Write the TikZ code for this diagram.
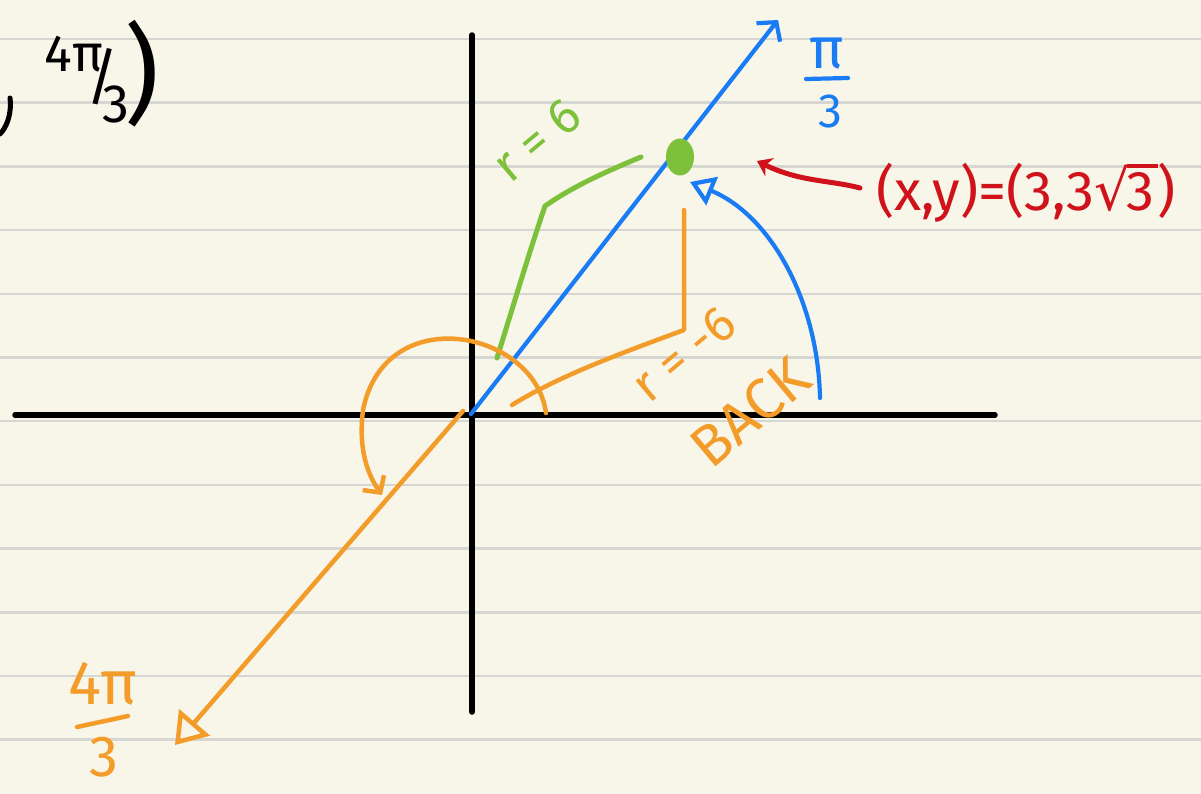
\documentclass[tikz,border=0pt]{standalone}
\usepackage{fontspec}
\setmainfont{Fira Sans}
\newfontfamily\djv{DejaVu Sans}
\usetikzlibrary{arrows.meta,shapes.geometric}
\definecolor{paper}{HTML}{F8F5E9}
\definecolor{ruleline}{HTML}{D6D6D3}
\definecolor{pblue}{HTML}{1A7CF5}
\definecolor{porange}{HTML}{F39C2A}
\definecolor{pgreen}{HTML}{7DC13A}
\definecolor{pred}{HTML}{D0121B}
\newcommand\myroot[1]{{\djv √}\kern-0.06em\vbox{\hrule height 0.07em\kern0.08em\hbox{#1\kern0.05em}}}
\begin{document}
\begin{tikzpicture}[x=1pt,y=-1pt,line cap=round,line join=round,
  hw/.style={font=\fontsize{#1}{#1}\selectfont,inner sep=0pt},
  axisline/.style={black,line width=5.5pt},
  bluepen/.style={pblue,line width=4.2pt},
  orangepen/.style={porange,line width=4.5pt},
  greenpen/.style={pgreen,line width=5pt},
  redpen/.style={pred,line width=5pt},
  blackpen/.style={black,line width=5pt}]
\fill[paper] (0,0) rectangle (1201,794);
\useasboundingbox (0,0) rectangle (1201,794);
\foreach \k in {0,...,11}
  \draw[ruleline,line width=2.5pt] (0,39+63.7*\k) -- (1201,39+63.7*\k);

% axes
\coordinate (O) at (471,414);
\coordinate (xl) at (15,415);
\coordinate (xr) at (995,415);
\coordinate (yt) at (472,35);
\coordinate (yb) at (472,712);
\draw[axisline] (xl) -- (xr);
\draw[axisline] (yt) -- (yb);

% blue ray pi/3
\coordinate (bt) at (778,20);
\draw[bluepen,-{Straight Barb[length=13pt,width=30pt,line width=4.2pt]}] (O) -- (bt);
\node[hw=58,text=pblue] (pinum) at (827,54) {π};
\coordinate (pibarL) at (806,79);
\coordinate (pibarR) at (848,78);
\draw[bluepen] (pibarL) -- (pibarR);
\node[hw=48,text=pblue] (piden) at (830,111) {3};

% green point and r=6
\node[ellipse,fill=pgreen,minimum width=28pt,minimum height=37pt,inner sep=0pt] (P) at (680,157) {};
\coordinate (g1) at (497,358);
\coordinate (g2) at (545,206);
\coordinate (g3) at (641,157);
\draw[greenpen] (g1) .. controls (515,300) and (530,250) .. (g2)
  .. controls (575,185) and (610,170) .. (g3);
\node[hw=50,text=pgreen,rotate=40] (rsix) at (537,140) {r = 6};

% orange r=-6 back
\coordinate (o1) at (684,210);
\coordinate (o2) at (684,330);
\coordinate (o3) at (512,405);
\draw[orangepen] (o1) -- (o2) .. controls (630,350) and (560,375) .. (o3);
\node[hw=50,text=porange,rotate=40] (rneg) at (684,354) {r = -6};
\node[hw=58,text=porange,rotate=40] (back) at (750,412) {BACK};

% orange rotation arc
\coordinate (oa1) at (546,413);
\coordinate (oa2) at (382,495);
\draw[orangepen,-{Straight Barb[length=12pt,width=26pt,line width=4.5pt]}] (oa1)
  .. controls (535,330) and (385,300) .. (363,410)
  .. controls (358,450) and (368,475) .. (oa2);

% orange ray 4pi/3
\coordinate (ol1) at (463,411);
\coordinate (ol2) at (175,745);
\draw[orangepen,-{Triangle[open,length=30pt,width=40pt,line width=4.5pt]}] (ol1) -- (ol2);
\node[hw=62,text=porange] (fnum) at (103,684) {4π};
\coordinate (fbarL) at (77,727);
\coordinate (fbarR) at (128,716);
\draw[orangepen] (fbarL) -- (fbarR);
\node[hw=58,text=porange] (fden) at (104,757) {3};

% blue arc back to point
\coordinate (ba1) at (820,398);
\coordinate (ba2) at (690,182);
\draw[bluepen,-{Triangle[open,length=24pt,width=30pt,line width=4.2pt]}] (ba1)
  .. controls (818,300) and (770,215) .. (ba2);

% red label and arrow
\node[hw=56,text=pred,anchor=west] (xy) at (876,193) {(x,y)=(3,3\myroot{3})};
\coordinate (r1) at (860,188);
\coordinate (r2) at (757,161);
\draw[redpen,-{Stealth[length=14pt,width=20pt]}] (r1)
  .. controls (830,180) and (800,182) .. (r2);

% black top-left fragment
\draw[blackpen] (10,98) .. controls (12,115) and (6,128) .. (0,134);
\node[hw=52] (k4pi) at (74,54) {4π};
\node[hw=62] (kslash) at (103,77) {/};
\node[hw=54] (kthree) at (116,104) {3};
\node[hw=108] (kparen) at (142,74) {)};
\end{tikzpicture}
\end{document}
